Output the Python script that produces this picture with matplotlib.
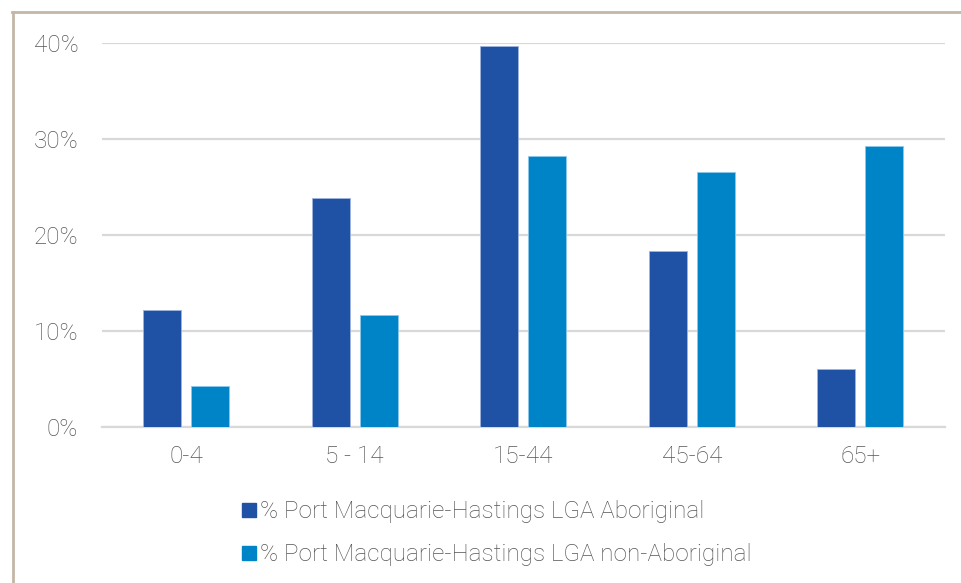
import matplotlib.pyplot as plt
import numpy as np
from matplotlib.lines import Line2D
from matplotlib.ticker import FuncFormatter

plt.rcParams["font.family"] = ["Roboto", "DejaVu Sans"]
plt.rcParams["font.weight"] = "light"

age_groups = ["0-4", "5 - 14", "15-44", "45-64", "65+"]
aboriginal = [12.2, 23.9, 39.7, 18.3, 6.0]
non_aboriginal = [4.2, 11.7, 28.2, 26.6, 29.3]
series_labels = [
    "% Port Macquarie-Hastings LGA Aboriginal",
    "% Port Macquarie-Hastings LGA non-Aboriginal",
]

DARK_BLUE = "#1f52a5"
LIGHT_BLUE = "#0084c8"
TEXT_GREY = "#555555"
GRID_GREY = "#d9d9d9"

fig = plt.figure(figsize=(9.62, 5.83), dpi=100)
ax = fig.add_axes([0.106, 0.268, 0.876, 0.658])

x = np.arange(len(age_groups))
width = 0.225
offset = width / 2 + 0.03
ax.bar(x - offset, aboriginal, width, color=DARK_BLUE, edgecolor="#9fb4dc", linewidth=0.6, zorder=3)
ax.bar(x + offset, non_aboriginal, width, color=LIGHT_BLUE, edgecolor="#8cc8ea", linewidth=0.6, zorder=3)

ax.set_xlim(-0.5, len(age_groups) - 0.5)
ax.set_ylim(0, 40)
ax.set_yticks([0, 10, 20, 30, 40])
ax.yaxis.set_major_formatter(FuncFormatter(lambda v, _: f"{v:.0f}%"))
ax.set_xticks(x)
ax.set_xticklabels(age_groups)

ax.grid(axis="y", color=GRID_GREY, linewidth=1.6, zorder=0)
for side in ["top", "right", "left"]:
    ax.spines[side].set_visible(False)
ax.spines["bottom"].set_color(GRID_GREY)
ax.spines["bottom"].set_linewidth(1.6)
ax.tick_params(axis="both", length=0, labelsize=17.5, colors=TEXT_GREY)
ax.tick_params(axis="y", pad=17)
ax.tick_params(axis="x", pad=13)

# legend stacked below the axes
handles = [
    Line2D([], [], marker="s", linestyle="none", markersize=10, color=DARK_BLUE),
    Line2D([], [], marker="s", linestyle="none", markersize=10, color=LIGHT_BLUE),
]
fig.legend(handles, series_labels, loc="upper left", bbox_to_anchor=(0.235, 0.163),
           frameon=False, fontsize=17.5, labelcolor=TEXT_GREY, handletextpad=0.05,
           labelspacing=0.82, borderpad=0, handlelength=0.85)

# thin frame along the left and top edges
frame_color = "#c3b7a7"
fig.add_artist(Line2D([0.0135, 0.0135], [0, 0.98], transform=fig.transFigure, color=frame_color, linewidth=2))
fig.add_artist(Line2D([0.0125, 1.0], [0.98, 0.98], transform=fig.transFigure, color=frame_color, linewidth=2))

fig.savefig("out.png", dpi=100)
